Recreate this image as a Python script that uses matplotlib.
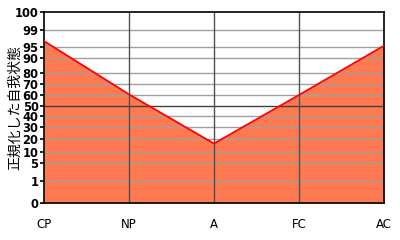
import matplotlib
matplotlib.use("Agg")
import matplotlib.pyplot as plt
import numpy as np

categories = ["CP", "NP", "A", "FC", "AC"]
values = [96.4, 60.6, 16.5, 60.0, 95.3]
tick_values = [0, 1, 5, 10, 20, 30, 40, 50, 60, 70, 80, 90, 95, 99, 100]
tick_labels = [str(v) for v in tick_values]
# relative vertical position of each tick on the non-linear axis
tick_pos = [0, 22, 40, 51, 64, 76, 87, 97, 108, 119, 130, 145, 156, 173, 191]

def fwd(v):
    return np.interp(v, tick_values, tick_pos)

def inv(p):
    return np.interp(p, tick_pos, tick_values)

fig = plt.figure(figsize=(4, 2.4), dpi=100)
ax = fig.add_axes([0.11, 0.154, 0.85, 0.796])
ax.set_yscale("function", functions=(fwd, inv))
x = np.arange(len(categories))
ax.set_xlim(0, len(categories) - 1)
ax.set_ylim(0, 100)

ax.fill_between(x, 0, values, color="#FF7A50", linewidth=0, zorder=1)
for v in tick_values[1:-1]:
    ax.axhline(v, color="#404040" if v == 50 else "#A0A0A0", linewidth=1.0, zorder=2)
for xi in x[1:-1]:
    ax.axvline(xi, color="#505050", linewidth=1.0, zorder=2)
ax.plot(x, values, color="#FF0000", linewidth=1.3, zorder=3)

ax.set_yticks(tick_values)
ax.set_yticklabels(tick_labels, fontsize=8.3, fontweight="bold")
ax.yaxis.set_minor_locator(matplotlib.ticker.NullLocator())
ax.set_xticks(x)
ax.set_xticklabels(categories, fontsize=8.5)
ax.tick_params(axis="y", length=3, width=1.2, pad=1, color="black")
ax.tick_params(axis="x", length=0, pad=11)
for s in ax.spines.values():
    s.set_color("black")
    s.set_linewidth(1.2)
ax.set_ylabel("正規化した自我状態", family=["Noto Sans CJK JP", "DejaVu Sans"], fontsize=10)
ax.yaxis.set_label_coords(-0.066, 0.5)
fig.savefig("out.png", dpi=100)
